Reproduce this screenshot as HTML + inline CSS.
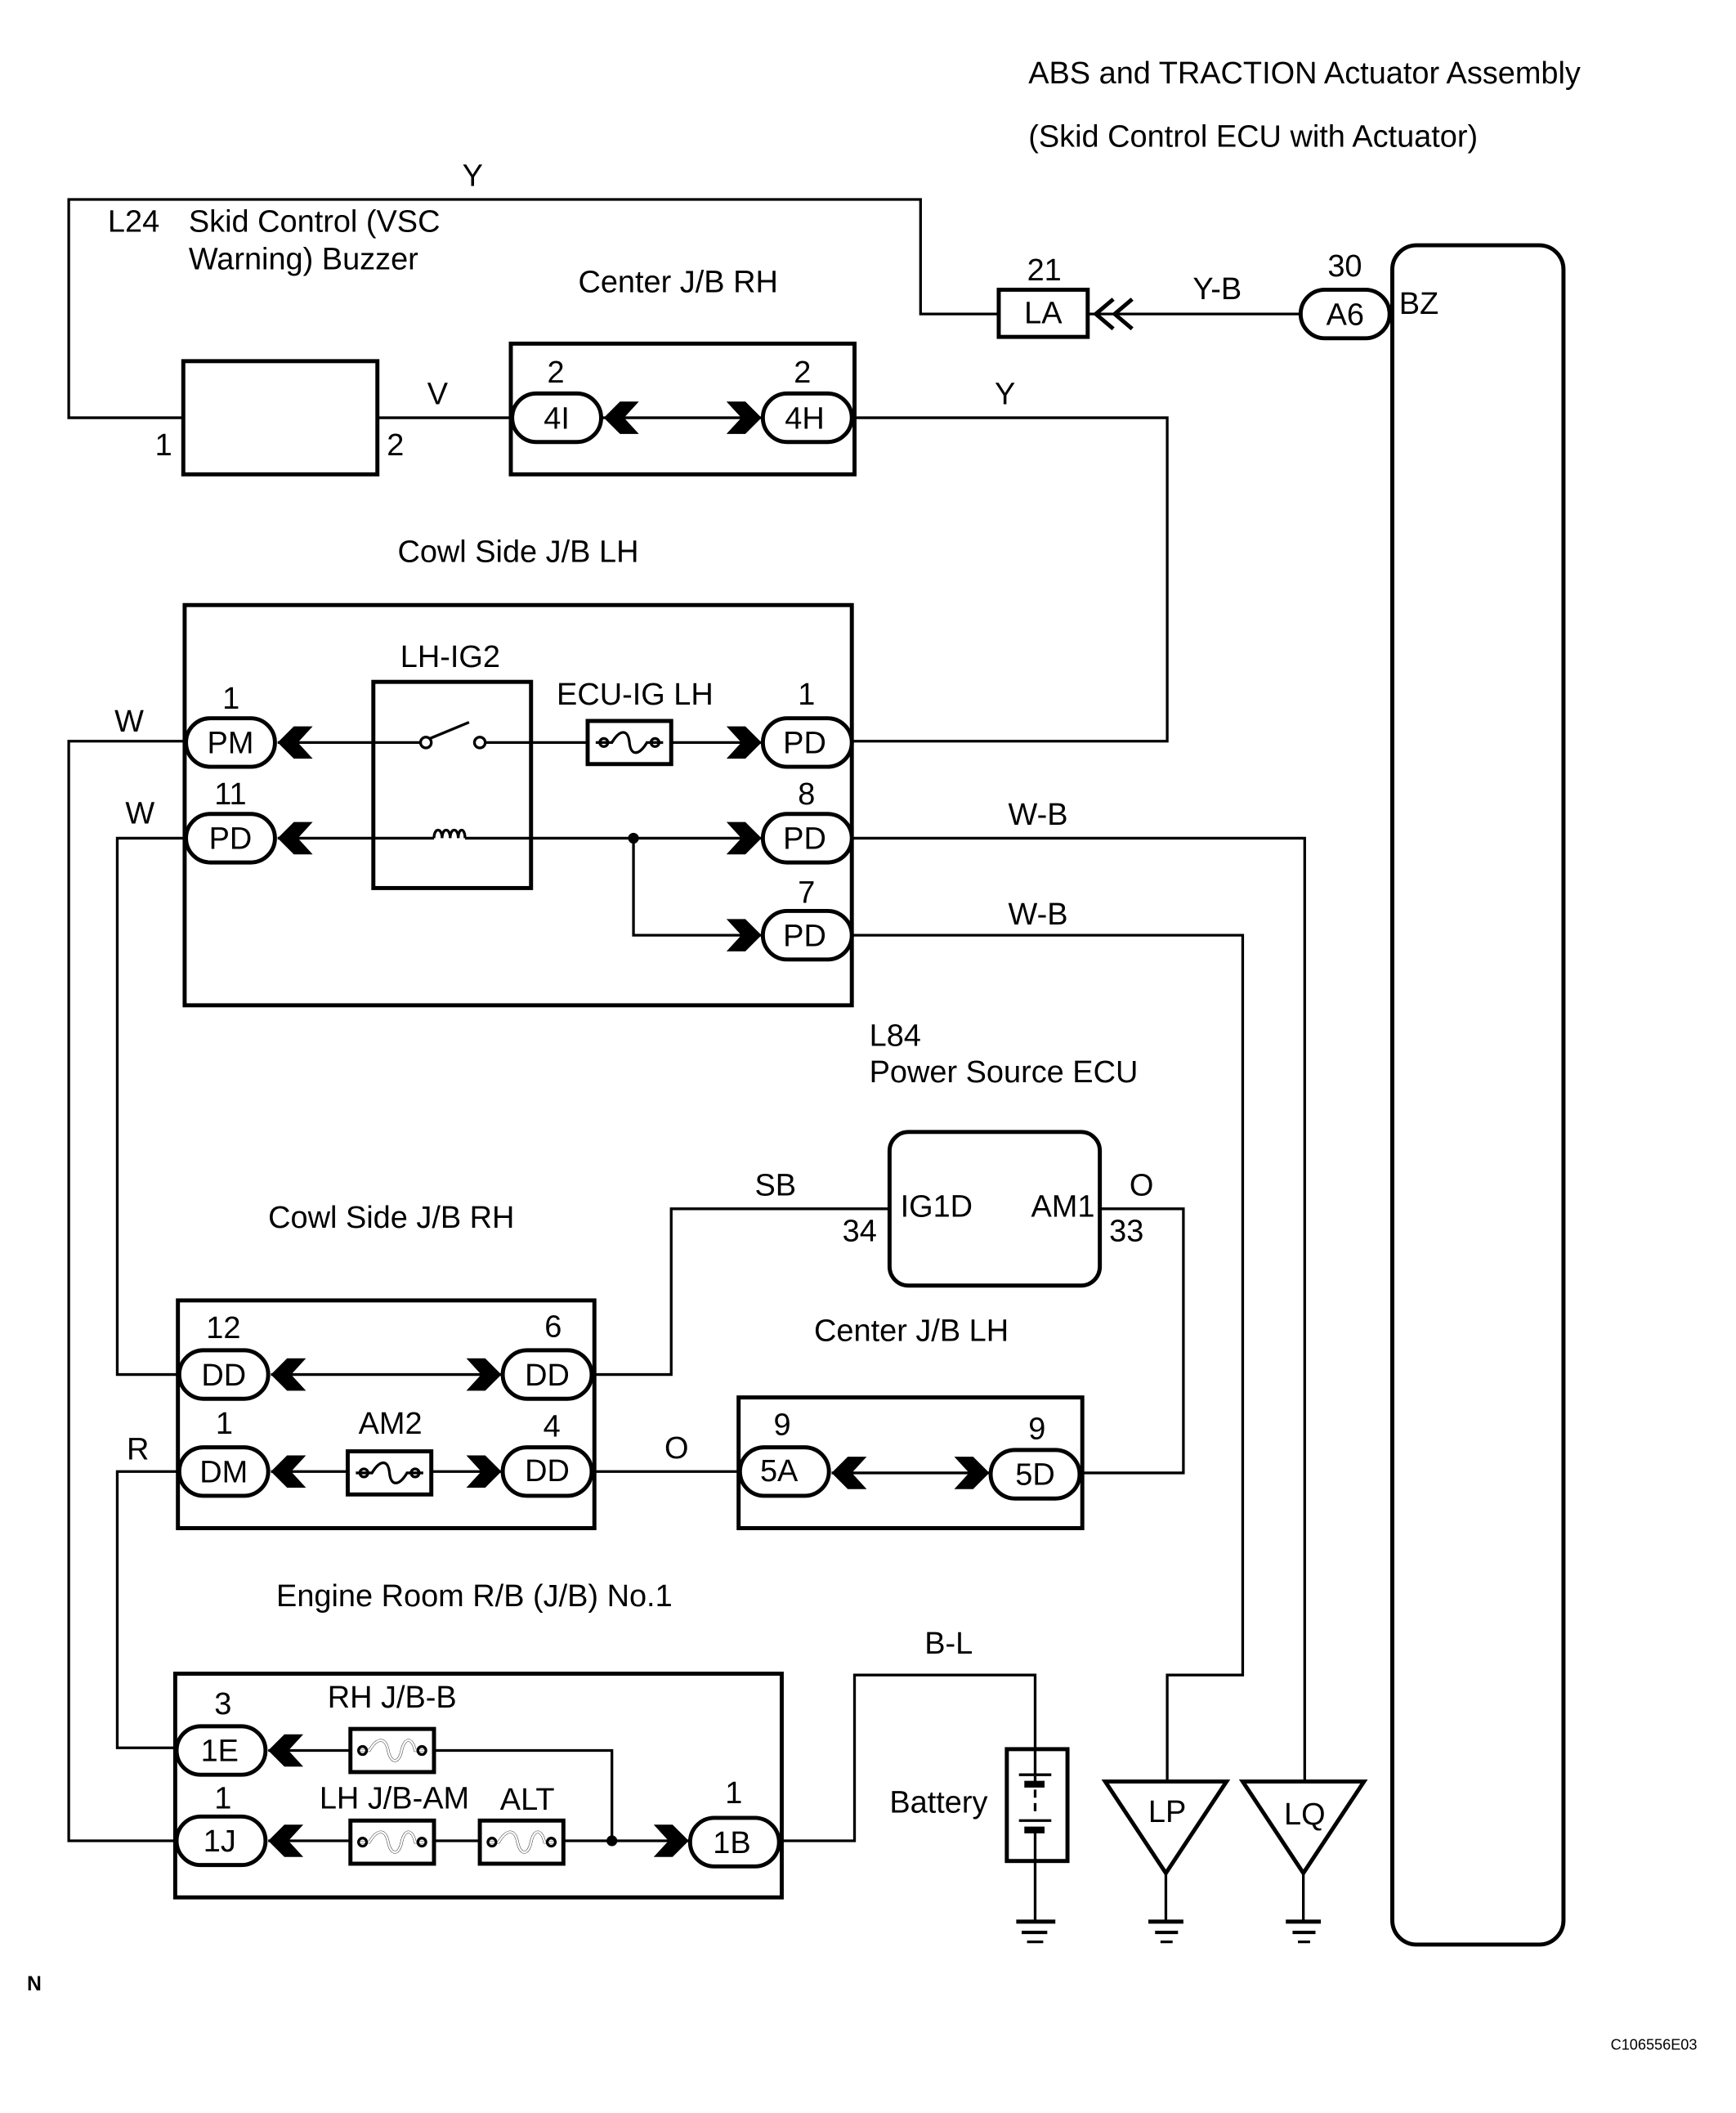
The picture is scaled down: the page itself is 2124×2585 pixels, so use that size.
<!DOCTYPE html>
<html><head><meta charset="utf-8"><style>
html,body{margin:0;padding:0;background:#fff}
svg{display:block}
text{font-family:"Liberation Sans",Arial,sans-serif;font-size:23px;fill:#000}
.w{fill:none;stroke:#000;stroke-width:2}
.b{fill:#fff;stroke:#000;stroke-width:3}
.p{fill:#fff;stroke:#000;stroke-width:3}
.c{text-anchor:middle}
</style></head><body>
<svg width="2124" height="2585" viewBox="0 0 1288 1568" preserveAspectRatio="none" xmlns="http://www.w3.org/2000/svg">
<defs>
<g id="cl"><polygon points="0,0 12,-12 26,-12 15,0 26,12 12,12" fill="#000"/></g>
<g id="cr"><polygon points="0,0 -12,-12 -26,-12 -15,0 -26,12 -12,12" fill="#000"/></g>
<g id="fz"><rect x="0" y="-16" width="62" height="32" class="b" stroke-width="2.5"/><path d="M6,0 H18 C24,-10 30,-10 31,0 C32,10 38,10 44,0 H56" class="w"/><circle cx="12" cy="0" r="3" class="w"/><circle cx="50" cy="0" r="3" class="w"/></g>
<g id="fz2"><rect x="0" y="-16" width="62" height="32" class="b" stroke-width="2.5"/><path d="M6,0 H14 C20,-10 26,-10 28,0 C30,10 36,10 38,0 C40,-10 46,-10 48,0 H56" class="w" stroke-width="4"/><path d="M6,0 H14 C20,-10 26,-10 28,0 C30,10 36,10 38,0 C40,-10 46,-10 48,0 H56" fill="none" stroke="#fff" stroke-width="1.5"/><circle cx="9" cy="0" r="3" class="w"/><circle cx="53" cy="0" r="3" class="w"/></g>
</defs>

<text x="763" y="62">ABS and TRACTION Actuator Assembly</text>
<text x="763" y="109">(Skid Control ECU with Actuator)</text>
<text x="343" y="138">Y</text>
<text x="80" y="172">L24</text>
<text x="140" y="172">Skid Control (VSC</text>
<text x="140" y="200">Warning) Buzzer</text>
<text x="429" y="217">Center J/B RH</text>

<path d="M136,310 H51 V148 H683 V233 H741" class="w"/>
<path d="M807,233 H965" class="w"/>
<rect x="741" y="215" width="66" height="35" class="b" stroke-width="2.5"/>
<text x="774" y="240" class="c">LA</text>
<text x="762" y="208">21</text>
<path d="M826,222 L813,233 L826,244 M840,222 L827,233 L840,244" fill="none" stroke="#000" stroke-width="3"/>
<text x="885" y="222">Y-B</text>
<text x="985" y="205">30</text>
<rect x="965" y="215" width="66" height="36" rx="18" class="p"/>
<text x="998" y="241" class="c">A6</text>
<rect x="1033" y="182" width="127" height="1261" rx="18" class="b"/>
<text x="1038" y="233">BZ</text>

<rect x="136" y="268" width="144" height="84" class="b"/>
<text x="115" y="338">1</text>
<text x="287" y="338">2</text>
<path d="M280,310 H380" class="w"/>
<text x="317" y="300">V</text>

<rect x="379" y="255" width="255" height="97" class="b"/>
<path d="M446,310 H566" class="w"/>
<rect x="380" y="292" width="66" height="36" rx="18" class="p"/>
<text x="413" y="318" class="c">4I</text>
<text x="406" y="284">2</text>
<use href="#cl" x="448" y="310"/>
<use href="#cr" x="565" y="310"/>
<rect x="566" y="292" width="66" height="36" rx="18" class="p"/>
<text x="597" y="318" class="c">4H</text>
<text x="589" y="284">2</text>
<path d="M632,310 H866 V550 H632" class="w"/>
<text x="738" y="300">Y</text>

<text x="295" y="417">Cowl Side J/B LH</text>
<rect x="137" y="449" width="495" height="297" class="b"/>
<text x="297" y="495">LH-IG2</text>
<text x="413" y="523">ECU-IG LH</text>
<rect x="277" y="506" width="117" height="153" class="b"/>
<path d="M131,1366 H51 V550 H138" class="w"/>
<text x="85" y="543">W</text>
<path d="M206,551 H312 M360,551 H436 M498,551 H566" class="w"/>
<path d="M319,548 L348,536" class="w"/>
<circle cx="316" cy="551" r="4" fill="#fff" stroke="#000" stroke-width="2"/>
<circle cx="356" cy="551" r="4" fill="#fff" stroke="#000" stroke-width="2"/>
<use href="#fz" x="436" y="551"/>
<rect x="138" y="533" width="66" height="36" rx="18" class="p"/>
<text x="171" y="559" class="c">PM</text>
<text x="165" y="526">1</text>
<use href="#cl" x="206" y="551"/>
<use href="#cr" x="565" y="551"/>
<rect x="566" y="533" width="66" height="36" rx="18" class="p"/>
<text x="597" y="559" class="c">PD</text>
<text x="592" y="523">1</text>

<path d="M133,1020 H87 V622 H138" class="w"/>
<text x="93" y="611">W</text>
<path d="M206,622 H322 M345,622 H566 M470,622 V694 H566" class="w"/>
<path d="M322,622 c0,-8 6,-8 6,0 c0,-8 6,-8 6,0 c0,-8 6,-8 6,0 c0,-8 5,-8 5,0" class="w"/>
<circle cx="470" cy="622" r="4" fill="#000"/>
<rect x="138" y="604" width="66" height="36" rx="18" class="p"/>
<text x="171" y="630" class="c">PD</text>
<text x="159" y="597">11</text>
<use href="#cl" x="206" y="622"/>
<use href="#cr" x="565" y="622"/>
<rect x="566" y="604" width="66" height="36" rx="18" class="p"/>
<text x="597" y="630" class="c">PD</text>
<text x="592" y="597">8</text>
<use href="#cr" x="565" y="694"/>
<rect x="566" y="676" width="66" height="36" rx="18" class="p"/>
<text x="597" y="702" class="c">PD</text>
<text x="592" y="670">7</text>
<path d="M632,622 H968 V1322" class="w"/>
<text x="748" y="612">W-B</text>
<path d="M632,694 H922 V1243 H866 V1322" class="w"/>
<text x="748" y="686">W-B</text>

<text x="645" y="776">L84</text>
<text x="645" y="803">Power Source ECU</text>
<rect x="660" y="840" width="156" height="114" rx="14" class="b"/>
<text x="668" y="903">IG1D</text>
<text x="765" y="903">AM1</text>
<text x="625" y="921">34</text>
<text x="823" y="921">33</text>
<text x="560" y="887">SB</text>
<text x="838" y="887">O</text>
<path d="M660,897 H498 V1020 H440" class="w"/>
<path d="M816,897 H878 V1093 H802" class="w"/>

<text x="199" y="911">Cowl Side J/B RH</text>
<rect x="132" y="965" width="309" height="169" class="b"/>
<path d="M201,1020 H372" class="w"/>
<rect x="133" y="1002" width="66" height="36" rx="18" class="p"/>
<text x="166" y="1028" class="c">DD</text>
<text x="153" y="993">12</text>
<use href="#cl" x="201" y="1020"/>
<use href="#cr" x="372" y="1020"/>
<rect x="373" y="1002" width="66" height="36" rx="18" class="p"/>
<text x="406" y="1028" class="c">DD</text>
<text x="404" y="992">6</text>

<path d="M201,1092 H258 M320,1092 H372" class="w"/>
<use href="#fz" x="258" y="1093"/>
<text x="266" y="1064">AM2</text>
<rect x="133" y="1074" width="66" height="36" rx="18" class="p"/>
<text x="166" y="1100" class="c">DM</text>
<text x="160" y="1064">1</text>
<use href="#cl" x="201" y="1092"/>
<use href="#cr" x="372" y="1092"/>
<rect x="373" y="1074" width="66" height="36" rx="18" class="p"/>
<text x="406" y="1099" class="c">DD</text>
<text x="403" y="1066">4</text>
<path d="M131,1297 H87 V1092 H133" class="w"/>
<text x="94" y="1083">R</text>
<path d="M441,1092 H549" class="w"/>
<text x="493" y="1082">O</text>

<text x="604" y="995">Center J/B LH</text>
<rect x="548" y="1037" width="255" height="97" class="b"/>
<path d="M617,1093 H735" class="w"/>
<rect x="549" y="1074" width="66" height="36" rx="18" class="p"/>
<text x="578" y="1099" class="c">5A</text>
<text x="574" y="1065">9</text>
<use href="#cl" x="617" y="1093"/>
<use href="#cr" x="734" y="1093"/>
<rect x="735" y="1076" width="66" height="36" rx="18" class="p"/>
<text x="768" y="1102" class="c">5D</text>
<text x="763" y="1068">9</text>

<text x="205" y="1192">Engine Room R/B (J/B) No.1</text>
<rect x="130" y="1242" width="450" height="166" class="b"/>
<path d="M199,1299 H260 M322,1299 H454 V1366 M199,1366 H260 M322,1366 H356 M418,1366 H512" class="w"/>
<circle cx="454" cy="1366" r="4" fill="#000"/>
<use href="#fz2" x="260" y="1299"/>
<use href="#fz2" x="260" y="1367"/>
<use href="#fz2" x="356" y="1367"/>
<text x="243" y="1267">RH J/B-B</text>
<text x="237" y="1342">LH J/B-AM</text>
<text x="371" y="1343">ALT</text>
<rect x="131" y="1281" width="66" height="36" rx="18" class="p"/>
<text x="163" y="1307" class="c">1E</text>
<text x="159" y="1272">3</text>
<use href="#cl" x="199" y="1299"/>
<rect x="131" y="1348" width="66" height="36" rx="18" class="p"/>
<text x="163" y="1374" class="c">1J</text>
<text x="159" y="1342">1</text>
<use href="#cl" x="199" y="1366"/>
<use href="#cr" x="511" y="1366"/>
<rect x="512" y="1349" width="66" height="36" rx="18" class="p"/>
<text x="543" y="1375" class="c">1B</text>
<text x="538" y="1338">1</text>

<path d="M578,1366 H634 V1243 H768 V1298" class="w"/>
<text x="686" y="1227">B-L</text>
<text x="660" y="1345">Battery</text>
<rect x="747" y="1298" width="45" height="83" class="b"/>
<path d="M768,1298 V1316 M768,1358 V1425" class="w"/>
<path d="M768,1318 V1346" stroke="#000" stroke-width="2" stroke-dasharray="6,4"/>
<path d="M756,1317 H780 M756,1351 H780" stroke="#000" stroke-width="2"/>
<path d="M760,1324 H775 M760,1358 H775" stroke="#000" stroke-width="5"/>

<polygon points="820,1322 910,1322 865,1390" class="b"/>
<text x="866" y="1352" class="c">LP</text>
<polygon points="922,1322 1012,1322 967,1390" class="b"/>
<text x="968" y="1354" class="c">LQ</text>
<path d="M865,1390 V1425 M967,1390 V1425" class="w"/>
<g stroke="#000">
<path d="M754,1426 H783 M852,1426 H878 M954,1426 H980" stroke-width="3"/>
<path d="M758,1434 H777 M857,1434 H874 M959,1434 H976" stroke-width="2.5"/>
<path d="M762,1441 H774 M861,1441 H870 M963,1441 H972" stroke-width="2"/>
</g>

<text x="20" y="1477" style="font-size:15px;font-weight:bold">N</text>
<text x="1195" y="1521" style="font-size:11px">C106556E03</text>
</svg>
</body></html>
